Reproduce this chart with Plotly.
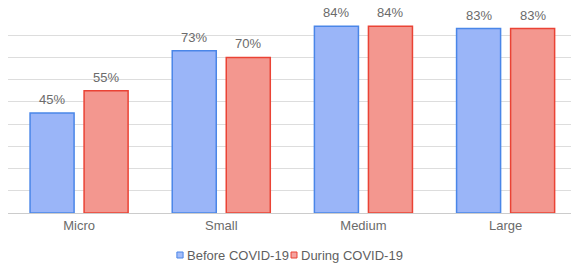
import plotly.graph_objects as go

categories = ["Micro", "Small", "Medium", "Large"]
before = [45, 73, 84, 83]
during = [55, 70, 84, 83]
series_names = ["Before COVID-19", "During COVID-19"]

fills = ["#9ab5f8", "#f3978f"]
borders = ["#4a86e8", "#ea4335"]
legend_fills = ["#a4bdf8", "#f4a3a0"]

fig = go.Figure()
for name, vals, fc, bc in zip(series_names, [before, during], fills, borders):
    fig.add_trace(go.Bar(
        x=categories, y=vals, name=name,
        marker=dict(color=fc, line=dict(color=bc, width=1.5)),
        showlegend=False,
    ))

# value labels above bars (data coordinates via axes)
for vals, shift in [(before, -27), (during, 27)]:
    for c, v in zip(categories, vals):
        fig.add_annotation(x=c, y=v, xref="x", yref="y", text=f"{v}%",
                           showarrow=False, xshift=shift, yanchor="bottom", yshift=4,
                           font=dict(size=13, color="#6b6b6b"))

# custom legend
leg_x = [(0.300, 0.311, 0.3135), (0.5027, 0.5133, 0.516)]
for (x0, x1, tx), name, lf, bc in zip(leg_x, series_names, legend_fills, borders):
    fig.add_shape(type="rect", xref="paper", yref="paper", x0=x0, x1=x1, y0=-0.225, y1=-0.195,
                  fillcolor=lf, line=dict(color=bc, width=1))
    fig.add_annotation(x=tx, y=-0.21, xref="paper", yref="paper", text=name, showarrow=False,
                       xanchor="left", yanchor="middle", font=dict(size=13, color="#5f5f5f"))

fig.update_layout(
    width=571, height=266,
    margin=dict(l=8, r=0, t=13, b=53, autoexpand=False),
    barmode="group", bargap=0.24, bargroupgap=0.185,
    plot_bgcolor="white", paper_bgcolor="white",
    font=dict(family="Liberation Sans, Arial, sans-serif", color="#666666", size=13),
    showlegend=False,
)
fig.update_xaxes(range=[-0.5, 3.46], showgrid=False, showline=True, linecolor="#cccccc",
                 linewidth=1, ticks="", tickfont=dict(size=13, color="#6b6b6b"), automargin=False)
fig.update_yaxes(range=[0, 90], dtick=10, showgrid=True, gridcolor="#dddddd", gridwidth=1,
                 showticklabels=False, zeroline=False, ticks="", automargin=False)

fig.write_html("out.html",
               config={"displayModeBar": False, "staticPlot": True},
               post_script="document.body.style.margin='0';document.body.style.overflow='hidden';")
